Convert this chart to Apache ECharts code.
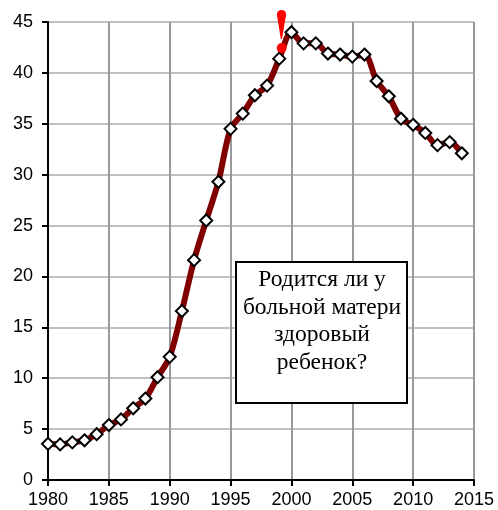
<!DOCTYPE html>
<html>
<head>
<meta charset="utf-8">
<script src="https://cdn.jsdelivr.net/npm/echarts@6/dist/echarts.min.js"></script>
<style>
  html, body { margin: 0; padding: 0; background: #fff; }
  #chart { width: 498px; height: 510px; }
</style>
</head>
<body>
<div id="chart"></div>
<script>
  // годы и значения
  var years = [1980, 1981, 1982, 1983, 1984, 1985, 1986, 1987, 1988, 1989,
    1990, 1991, 1992, 1993, 1994, 1995, 1996, 1997, 1998, 1999,
    2000, 2001, 2002, 2003, 2004, 2005, 2006, 2007, 2008, 2009,
    2010, 2011, 2012, 2013, 2014];
  var values = [3.55, 3.5, 3.7, 3.9, 4.5, 5.4, 5.95, 7.05, 8.0, 10.1,
    12.1, 16.6, 21.6, 25.5, 29.3, 34.5, 36.0, 37.8, 38.75, 41.4,
    44.0, 42.9, 42.9, 41.9, 41.8, 41.6, 41.8, 39.2, 37.7, 35.5,
    34.9, 34.1, 32.9, 33.2, 32.1];
  var boxText = ['Родится ли у', 'больной матери', 'здоровый', 'ребенок?'];

  var chart = echarts.init(document.getElementById('chart'));

  var points = years.map(function (y, i) { return [y, values[i]]; });

  chart.setOption({
    animation: false,
    backgroundColor: '#fff',
    grid: {
      left: 48,
      right: 24,
      top: 22,
      bottom: 30
    },
    // X ось
    xAxis: {
      type: 'value',
      min: 1980,
      max: 2015,
      interval: 5,
      axisLine: { lineStyle: { color: '#000', width: 2 } },
      axisTick: { show: true, inside: false, length: 6, lineStyle: { color: '#000', width: 2 } },
      axisLabel: {
        margin: 11,
        color: '#000',
        fontSize: 18,
        fontFamily: 'Liberation Sans',
        formatter: function (v) { return String(v); }
      },
      splitLine: { show: true, lineStyle: { color: '#999', width: 2 } }
    },
    // Y ось
    yAxis: {
      type: 'value',
      min: 0,
      max: 45,
      interval: 5,
      axisLine: { show: true, lineStyle: { color: '#000', width: 2 } },
      axisTick: { show: true, inside: false, length: 6, lineStyle: { color: '#000', width: 2 } },
      axisLabel: {
        margin: 15,
        color: '#000',
        fontSize: 18,
        fontFamily: 'Liberation Sans'
      },
      splitLine: { show: true, lineStyle: { color: '#c0c0c0', width: 2 } }
    },
    series: [{
      type: 'line',
      data: points,
      smooth: 0.3,
      symbol: 'diamond',
      symbolSize: 12,
      lineStyle: { color: '#800000', width: 6 },
      itemStyle: { color: '#fff', borderColor: '#000', borderWidth: 2 },
      z: 3
    }],
    graphic: [{
      type: 'rect',
      z: 100,
      shape: { x: 236, y: 262, width: 171, height: 141 },
      style: { fill: '#fff', stroke: '#000', lineWidth: 2 }
    }, {
      type: 'text',
      z: 101,
      x: 322,
      y: 266,
      style: {
        text: boxText.join('\n'),
        fill: '#000',
        font: '23.5px "Liberation Serif"',
        lineHeight: 27.7,
        align: 'center',
        verticalAlign: 'top'
      }
    },
    // красный восклицательный знак
    {
      type: 'circle',
      z: 100,
      shape: { cx: 281.5, cy: 14.5, r: 4.6 },
      style: { fill: '#ff0000' }
    }, {
      type: 'polygon',
      z: 100,
      shape: { points: [[276.9, 14.5], [286.1, 14.5], [282, 39], [280.8, 39]] },
      style: { fill: '#ff0000' }
    }, {
      type: 'circle',
      z: 100,
      shape: { cx: 281.7, cy: 48, r: 5 },
      style: { fill: '#ff0000' }
    }]
  });
</script>
</body>
</html>
